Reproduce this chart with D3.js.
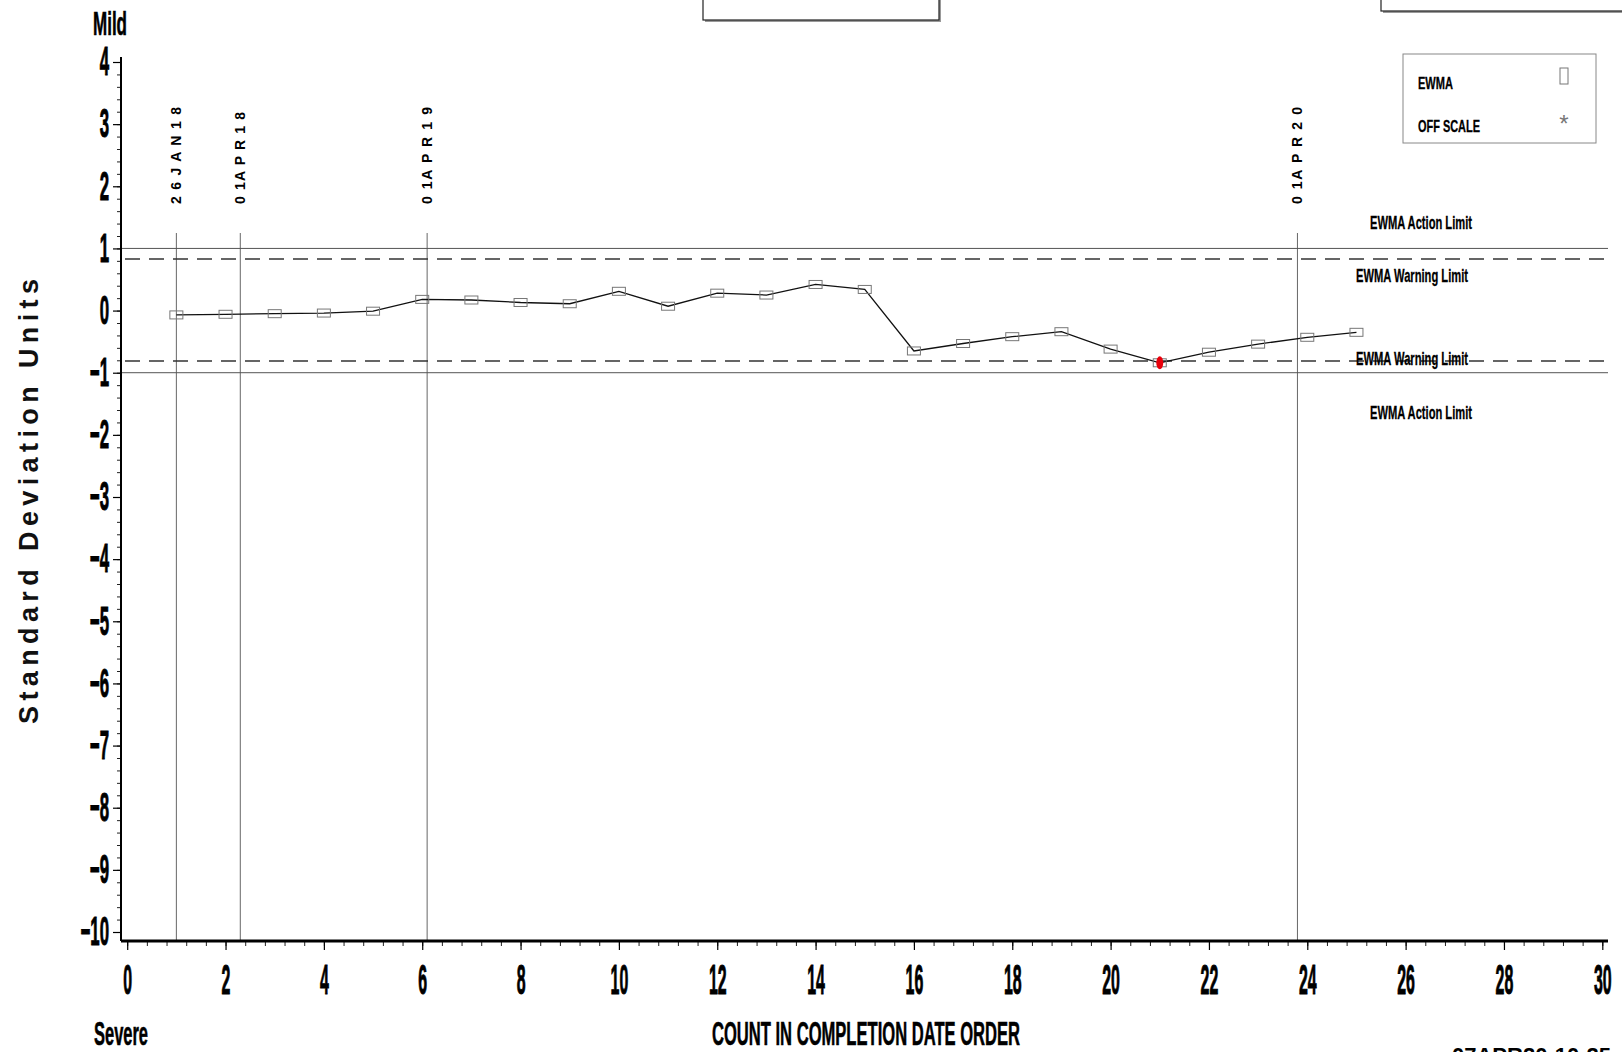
<!DOCTYPE html>
<html>
<head>
<meta charset="utf-8">
<script src="https://cdn.jsdelivr.net/npm/d3@7"></script>
<style>
  body { margin: 0; background: #fff; overflow: hidden; }
  text { font-family: "Liberation Sans", Arial, sans-serif; }
</style>
</head>
<body>
<div id="chart"></div>
<script>
// data
var counts = [1, 2, 3, 4, 5, 6, 7, 8, 9, 10, 11, 12, 13, 14, 15, 16, 17, 18, 19, 20, 21, 22, 23, 24, 25];
var ewma = [-0.07, -0.06, -0.05, -0.04, -0.01, 0.18, 0.17, 0.13, 0.11, 0.31, 0.07, 0.28, 0.25, 0.42,
            0.34, -0.65, -0.53, -0.42, -0.34, -0.62, -0.84, -0.67, -0.54, -0.43, -0.35];
var offScale = [21];

var dateLines = [1.0, 2.3, 6.1, 23.8];
var dateLabels = ["2 6 J A N 1 8", "0 1A P R 1 8", "0 1A P R 1 9", "0 1A P R 2 0"];

var actionLimits = [1, -1];
var warningLimits = [0.83, -0.81];

var xTicks = [0, 2, 4, 6, 8, 10, 12, 14, 16, 18, 20, 22, 24, 26, 28, 30];
var yTicks = [4, 3, 2, 1, 0, -1, -2, -3, -4, -5, -6, -7, -8, -9, -10];

// svg container
var svgWidth = 1622;
var svgHeight = 1052;

var svg = d3.select("#chart")
  .append("svg")
  .attr("width", svgWidth)
  .attr("height", svgHeight);

// scales
var xScale = d3.scaleLinear().domain([0, 30]).range([127.2, 1602.3]);
var yScale = d3.scaleLinear().domain([4, -10]).range([62, 932]);

var axisLeftX = 121;
var axisBottomY = 941;
var plotRight = 1608;

// squeeze text to a given width like the old SAS fonts
function squeeze(sel, len) {
  sel.attr("textLength", len).attr("lengthAdjust", "spacingAndGlyphs");
}

// top boxes (clipped at the top of the page)
function shadowBox(x, y, w, h) {
  svg.append("rect").attr("x", x + 2).attr("y", y + 2).attr("width", w).attr("height", h)
    .attr("fill", "#999");
  svg.append("rect").attr("x", x).attr("y", y).attr("width", w).attr("height", h)
    .attr("fill", "#fff").attr("stroke", "#222").attr("stroke-width", 1.2);
}
shadowBox(703, -12, 236, 32);
shadowBox(1381, -12, 262, 23);

// reference date lines
svg.append("g").selectAll("line")
  .data(dateLines)
  .enter()
  .append("line")
  .attr("x1", d => xScale(d)).attr("x2", d => xScale(d))
  .attr("y1", 233).attr("y2", axisBottomY)
  .attr("stroke", "#666").attr("stroke-width", 1);

svg.append("g").selectAll("text")
  .data(dateLines)
  .enter()
  .append("text")
  .attr("transform", d => `translate(${xScale(d) + 5}, 204) rotate(-90)`)
  .attr("font-size", 14)
  .attr("font-weight", "bold")
  .attr("textLength", (d, i) => i == 1 ? 92 : 97)
  .attr("lengthAdjust", "spacing")
  .text((d, i) => dateLabels[i]);

// limit lines
svg.append("g").selectAll("line")
  .data(actionLimits)
  .enter()
  .append("line")
  .attr("x1", axisLeftX).attr("x2", plotRight)
  .attr("y1", d => yScale(d)).attr("y2", d => yScale(d))
  .attr("stroke", "#555").attr("stroke-width", 1);

svg.append("g").selectAll("line")
  .data(warningLimits)
  .enter()
  .append("line")
  .attr("x1", axisLeftX + 4).attr("x2", plotRight)
  .attr("y1", d => yScale(d)).attr("y2", d => yScale(d))
  .attr("stroke", "#333").attr("stroke-width", 1.5)
  .attr("stroke-dasharray", "15,9");

// limit labels
var limitLabels = [
  {v: actionLimits[0], dy: -19, text: "EWMA Action Limit", w: 102, cx: 1421},
  {v: warningLimits[0], dy: 23, text: "EWMA Warning Limit", w: 112, cx: 1412},
  {v: warningLimits[1], dy: 4, text: "EWMA Warning Limit", w: 112, cx: 1412},
  {v: actionLimits[1], dy: 46, text: "EWMA Action Limit", w: 102, cx: 1421}
];
svg.append("g").selectAll("text")
  .data(limitLabels)
  .enter()
  .append("text")
  .attr("x", d => d.cx - d.w / 2)
  .attr("y", d => yScale(d.v) + d.dy)
  .attr("font-size", 19)
  .attr("font-weight", "bold")
  .attr("stroke", "#000").attr("stroke-width", 0.3)
  .attr("textLength", d => d.w)
  .attr("lengthAdjust", "spacingAndGlyphs")
  .text(d => d.text);

// y axis: minor + major ticks
var yMinor = d3.axisLeft(yScale).ticks(70).tickSize(4).tickFormat("");
svg.append("g")
  .attr("transform", `translate(${axisLeftX}, 0)`)
  .call(yMinor)
  .call(g => g.select(".domain").remove())
  .selectAll(".tick line").attr("stroke", "#222");

var yAxis = d3.axisLeft(yScale).tickValues(yTicks).tickSize(8).tickPadding(4);
var yG = svg.append("g")
  .attr("transform", `translate(${axisLeftX}, 0)`)
  .call(yAxis);
yG.select(".domain").remove();
yG.selectAll(".tick line").attr("stroke", "#000").attr("stroke-width", 1.2);
yG.selectAll(".tick text")
  .attr("font-size", 40)
  .attr("font-weight", "bold")
  .attr("font-family", "Liberation Sans, Arial, sans-serif")
  .attr("fill", "#000")
  .attr("stroke", "#000").attr("stroke-width", 1)
  .attr("x", -12 / 0.42)
  .attr("transform", "scale(0.42,1)");

svg.append("line")
  .attr("x1", axisLeftX).attr("x2", axisLeftX)
  .attr("y1", 57).attr("y2", axisBottomY)
  .attr("stroke", "#000").attr("stroke-width", 2);

// x axis: minor + major ticks
var xMinor = d3.axisBottom(xScale).tickValues(d3.range(0, 30.01, 0.4)).tickSize(5).tickFormat("");
svg.append("g")
  .attr("transform", `translate(0, ${axisBottomY})`)
  .call(xMinor)
  .call(g => g.select(".domain").remove())
  .selectAll(".tick line").attr("stroke", "#222");

var xAxis = d3.axisBottom(xScale).tickValues(xTicks).tickSize(9).tickPadding(14);
var xG = svg.append("g")
  .attr("transform", `translate(0, ${axisBottomY})`)
  .call(xAxis);
xG.select(".domain").remove();
xG.selectAll(".tick line").attr("stroke", "#000").attr("stroke-width", 1.2);
xG.selectAll(".tick text")
  .attr("font-size", 43)
  .attr("font-weight", "bold")
  .attr("font-family", "Liberation Sans, Arial, sans-serif")
  .attr("fill", "#000")
  .attr("stroke", "#000").attr("stroke-width", 1)
  .attr("y", 22)
  .attr("dy", "0.71em")
  .attr("transform", "scale(0.37,1)");

svg.append("line")
  .attr("x1", axisLeftX).attr("x2", plotRight)
  .attr("y1", axisBottomY).attr("y2", axisBottomY)
  .attr("stroke", "#000").attr("stroke-width", 3);

// ewma line
var line = d3.line()
  .x((d, i) => xScale(counts[i]))
  .y(d => yScale(d));

svg.append("path")
  .datum(ewma)
  .attr("d", line)
  .attr("fill", "none")
  .attr("stroke", "#111")
  .attr("stroke-width", 1.3);

// markers
svg.append("g").selectAll("rect")
  .data(ewma)
  .enter()
  .append("rect")
  .attr("x", (d, i) => xScale(counts[i]) - 6.5)
  .attr("y", d => yScale(d) - 4)
  .attr("width", 13)
  .attr("height", 8)
  .attr("fill", "none")
  .attr("stroke", "#777")
  .attr("stroke-width", 1);

// off scale flag
svg.append("g").selectAll("ellipse")
  .data(offScale)
  .enter()
  .append("ellipse")
  .attr("cx", d => xScale(d))
  .attr("cy", d => yScale(ewma[counts.indexOf(d)]))
  .attr("rx", 3.5)
  .attr("ry", 6.5)
  .attr("fill", "#e8000b");

// legend
svg.append("rect")
  .attr("x", 1403).attr("y", 54).attr("width", 193).attr("height", 89)
  .attr("fill", "#fff").attr("stroke", "#888").attr("stroke-width", 1);

svg.append("text").attr("x", 1418).attr("y", 89)
  .attr("font-size", 17).attr("font-weight", "bold")
  .attr("stroke", "#000").attr("stroke-width", 0.3)
  .call(squeeze, 35).text("EWMA");
svg.append("rect")
  .attr("x", 1560).attr("y", 68).attr("width", 8).attr("height", 16)
  .attr("fill", "none").attr("stroke", "#777");

svg.append("text").attr("x", 1418).attr("y", 132)
  .attr("font-size", 17).attr("font-weight", "bold")
  .attr("stroke", "#000").attr("stroke-width", 0.3)
  .call(squeeze, 62).text("OFF SCALE");
svg.append("text").attr("x", 1564).attr("y", 132)
  .attr("text-anchor", "middle")
  .attr("font-size", 24).attr("fill", "#777")
  .text("*");

// axis titles and corner notes
svg.append("text")
  .attr("transform", "translate(38, 724) rotate(-90)")
  .attr("font-size", 27)
  .attr("font-weight", "bold")
  .attr("fill", "#111")
  .attr("textLength", 445)
  .attr("lengthAdjust", "spacing")
  .text("Standard Deviation Units");

svg.append("text").attr("x", 93).attr("y", 35)
  .attr("font-size", 33).attr("font-weight", "bold")
  .attr("stroke", "#000").attr("stroke-width", 0.6)
  .call(squeeze, 34).text("Mild");

svg.append("text").attr("x", 94).attr("y", 1045)
  .attr("font-size", 33).attr("font-weight", "bold")
  .attr("stroke", "#000").attr("stroke-width", 0.6)
  .call(squeeze, 54).text("Severe");

svg.append("text").attr("x", 712).attr("y", 1045)
  .attr("font-size", 34).attr("font-weight", "bold")
  .attr("stroke", "#000").attr("stroke-width", 0.6)
  .call(squeeze, 308).text("COUNT IN COMPLETION DATE ORDER");

svg.append("text").attr("x", 1452).attr("y", 1063)
  .attr("font-size", 22).attr("font-weight", "bold")
  .text("07APR20:10:25");
</script>
</body>
</html>
